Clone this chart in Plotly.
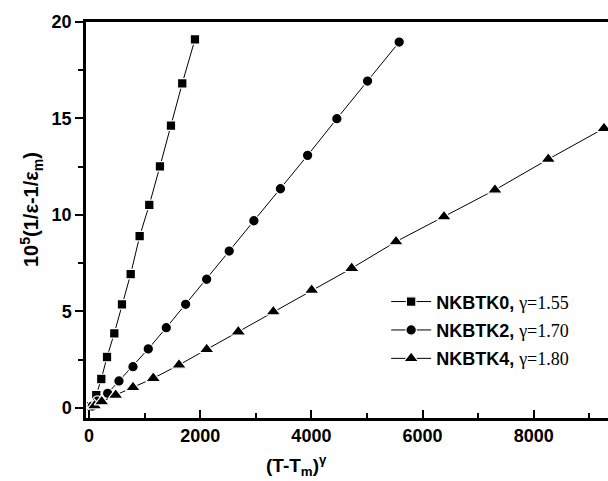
import plotly.graph_objects as go

# NKBTK0 (squares)
x0 = [40, 131, 221, 324, 455, 593, 750, 911, 1084, 1276, 1474, 1677, 1906]
y0 = [0.10, 0.67, 1.50, 2.64, 3.87, 5.37, 6.94, 8.90, 10.52, 12.52, 14.63, 16.82, 19.10]
# NKBTK2 (circles)
x2 = [60, 150, 336, 539, 791, 1066, 1390, 1738, 2116, 2522, 2966, 3443, 3932, 4458, 5010, 5579]
y2 = [0.10, 0.35, 0.76, 1.40, 2.14, 3.06, 4.16, 5.37, 6.67, 8.13, 9.70, 11.36, 13.09, 14.99, 16.94, 18.96]
# NKBTK4 (triangles)
x4 = [100, 228, 480, 791, 1156, 1619, 2117, 2685, 3315, 4005, 4725, 5522, 6385, 7302, 8261, 9263]
y4 = [0.12, 0.33, 0.67, 1.07, 1.54, 2.23, 3.04, 3.95, 4.99, 6.11, 7.24, 8.62, 9.91, 11.30, 12.89, 14.49]

names = ["NKBTK0", "NKBTK2", "NKBTK4"]
gammas = ["1.55", "1.70", "1.80"]
symbols = ["square", "circle", "triangle-up"]
sizes = [9.5, 10.5, 13]

fig = go.Figure()
for xs, ys, nm, g, sym, sz in zip([x0, x2, x4], [y0, y2, y4], names, gammas, symbols, sizes):
    fig.add_trace(go.Scatter(
        x=xs, y=ys, mode="lines+markers",
        name=nm + ", <span style='font-family:Liberation Serif, Times New Roman, serif;font-weight:normal'>\u03b3=" + g + "</span>",
        legendgroup=nm,
        line=dict(color="black", width=1),
        marker=dict(symbol=sym, size=sz, color="black", line=dict(color="white", width=1.2)),
    ))

font_main = "Liberation Sans, Arial, sans-serif"

fig.update_layout(
    width=608, height=481,
    margin=dict(l=86, r=0, t=22, b=63),
    paper_bgcolor="white", plot_bgcolor="white",
    showlegend=True,
    legend=dict(x=0.575, y=0.34, xanchor="left", yanchor="top",
                bgcolor="rgba(0,0,0,0)", font=dict(family=font_main, size=18, color="black", weight="bold"),
                tracegroupgap=2, itemwidth=40),
    xaxis=dict(range=[-54, 9335], showgrid=False, zeroline=False,
               showline=True, linecolor="black", linewidth=2.5, mirror=True,
               ticks="inside", ticklen=8, tickwidth=2, tickcolor="black",
               tickvals=[0, 2000, 4000, 6000, 8000],
               minor=dict(ticks="inside", ticklen=5, tickwidth=2, tickcolor="black", dtick=1000, tick0=0, showgrid=False),
               tickfont=dict(family=font_main, size=18, color="black", weight="bold")),
    yaxis=dict(range=[-0.52, 20], showgrid=False, zeroline=False,
               showline=True, linecolor="black", linewidth=2.5,
               ticks="outside", ticklen=8, tickwidth=2, tickcolor="black",
               tickvals=[0, 5, 10, 15, 20],
               minor=dict(ticks="outside", ticklen=5, tickwidth=2, tickcolor="black", dtick=2.5, tick0=0, showgrid=False),
               tickfont=dict(family=font_main, size=18, color="black", weight="bold")),
)

fig.add_annotation(xref="paper", yref="paper", x=(296 - 86) / 522, y=-(465 - 418) / 396, xanchor="center", yanchor="middle",
                   text="(T-T<sub>m</sub>)<sup>\u03b3</sup>", showarrow=False,
                   font=dict(family=font_main, size=19, color="black", weight="bold"))
fig.add_annotation(xref="paper", yref="paper", x=(32 - 86) / 522, y=(418 - 210) / 396, xanchor="center", yanchor="middle",
                   text="10<sup>5</sup>(1/\u03b5-1/\u03b5<sub>m</sub>)", showarrow=False, textangle=-90,
                   font=dict(family=font_main, size=20, color="black", weight="bold"))

fig.write_html("out.html")
